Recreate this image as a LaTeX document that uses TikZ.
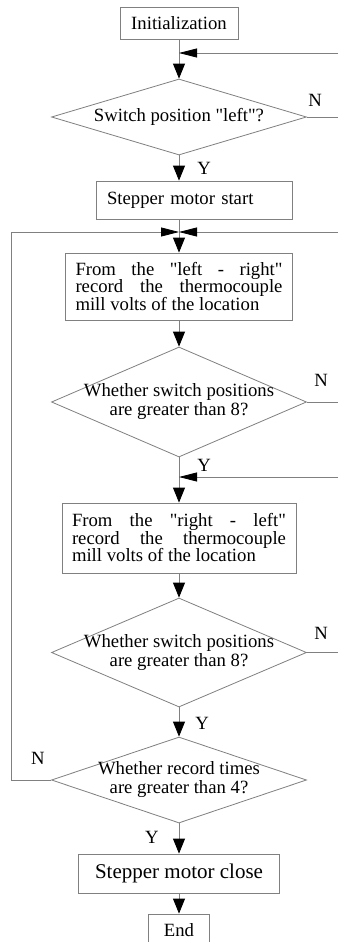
\documentclass[tikz,border=0pt]{standalone}
\usepackage{fontspec}
\setmainfont{Liberation Serif}[Ligatures=TeXOff]
\usetikzlibrary{shapes.geometric,arrows.meta}

\begin{document}
\begin{tikzpicture}[x=1pt,y=-1pt,
    flowline/.style={draw=gray,line width=0.8pt},
    box/.style={flowline,rectangle,inner sep=0pt,font=\fontsize{18.7}{17.5}\selectfont},
    decision/.style={flowline,diamond,inner sep=0pt,minimum width=255pt},
    txt/.style={align=center,font=\fontsize{18.7}{19}\selectfont},
    lbl/.style={font=\fontsize{18.7}{19}\selectfont},
    down/.style={flowline,-{Triangle[length=15pt,width=12pt,color=black]}},
    side/.style={flowline,-{Triangle[length=18pt,width=9pt,color=black]}}]
    \fill[white] (0,0) rectangle (338,942);
    \useasboundingbox (0,0) rectangle (338,942);

    \node[box,minimum width=118pt,minimum height=32pt] (init) at (179,23) {Initialization};
    \node[decision,minimum height=76pt] (d1) at (179,117) {};
    \node[txt] (t1) at (d1) {Switch position "left"?};
    \node[box,minimum width=196pt,minimum height=38pt,text width=174pt,inner xsep=11pt,align=left] (start) at (194,200) {Stepper motor start};
    \node[box,text width=207pt,inner xsep=10pt,minimum height=67pt,align=justify] (lr) at (179,286.5)
        {\hyphenpenalty=10000 From the "left - right"\linebreak record the thermocouple\linebreak mill volts of the location};
    \node[decision,minimum height=110pt] (d2) at (179,402) {};
    \node[txt] (t2) at (d2) {Whether switch positions\\are greater than 8?};
    \node[box,text width=214pt,inner xsep=10pt,minimum height=70pt,align=justify] (rl) at (179,538)
        {\hyphenpenalty=10000 From the "right - left"\linebreak record the thermocouple\linebreak mill volts of the location};
    \node[decision,minimum height=109pt] (d3) at (179,652.5) {};
    \node[txt] (t3) at (d3) {Whether switch positions\\are greater than 8?};
    \node[decision,minimum height=86pt] (d4) at (179,780) {};
    \node[txt] (t4) at (d4) {Whether record times\\are greater than 4?};
    \node[box,font=\fontsize{21}{22}\selectfont,minimum width=201pt,minimum height=39pt] (close) at (179,873.5) {Stepper motor close};
    \node[box,minimum width=61pt,minimum height=32pt] (fin) at (179,930) {End};

    \coordinate (m1) at (179,53);
    \coordinate (m2) at (179,232);
    \coordinate (m3) at (179,477);
    \coordinate (r1) at (338,53);
    \coordinate (r2) at (338,117);
    \coordinate (r3) at (338,232);
    \coordinate (r4) at (338,402);
    \coordinate (r5) at (338,477);
    \coordinate (r6) at (338,652.5);

    \draw[down] (init) -- (d1);
    \draw[side] (r1) -- (m1);
    \draw[flowline] (d1.east) -- (r2);
    \draw[down] (d1.south) -- (d1.south |- start.north);
    \draw[down] (d1.south |- start.south) -- (lr);
    \draw[side] (r3) -- (m2);
    \draw[side] (d4.west) -- ++(-40,0) |- (m2);
    \draw[down] (lr) -- (d2);
    \draw[flowline] (d2.east) -- (r4);
    \draw[down] (d2) -- (rl);
    \draw[side] (r5) -- (m3);
    \draw[down] (rl) -- (d3);
    \draw[flowline] (d3.east) -- (r6);
    \draw[down] (d3) -- (d4);
    \draw[down] (d4) -- (close);
    \draw[down] (close) -- (fin);

    \node[lbl] (n1) at (315,100) {N};
    \node[lbl] (y1) at (204,168) {Y};
    \node[lbl] (n2) at (321,380) {N};
    \node[lbl] (y2) at (204,465) {Y};
    \node[lbl] (n3) at (321,633) {N};
    \node[lbl] (y3) at (202,723) {Y};
    \node[lbl] (n4) at (38,758) {N};
    \node[lbl] (y4) at (152,837) {Y};
\end{tikzpicture}
\end{document}
